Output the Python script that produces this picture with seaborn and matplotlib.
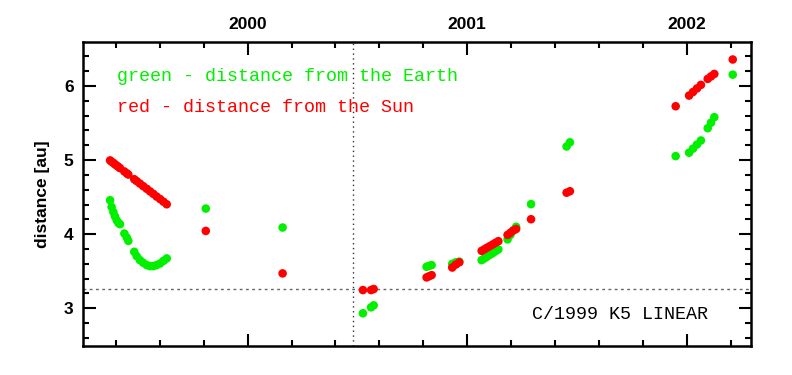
import seaborn as sns
import matplotlib
matplotlib.use('Agg')
import matplotlib.pyplot as plt
import pandas as pd
from matplotlib.ticker import MultipleLocator

# epochs (decimal year) and distances [au] of C/1999 K5 (LINEAR)
dates = [1999.373, 1999.380, 1999.388, 1999.395, 1999.403, 1999.411, 1999.418,
         1999.438, 1999.449, 1999.456, 1999.483, 1999.494, 1999.509, 1999.524,
         1999.540, 1999.555, 1999.570, 1999.585, 1999.601, 1999.616, 1999.631,
         1999.809, 2000.159,
         2000.525, 2000.562, 2000.574,
         2000.815, 2000.826, 2000.838,
         2000.932, 2000.948, 2000.964,
         2001.066, 2001.079, 2001.091, 2001.104, 2001.117, 2001.129, 2001.142,
         2001.184, 2001.197, 2001.210, 2001.223,
         2001.291,
         2001.453, 2001.468,
         2001.950,
         2002.011, 2002.029, 2002.047, 2002.065, 2002.096, 2002.111, 2002.126,
         2002.210]

delta = [4.458, 4.367, 4.300, 4.242, 4.188, 4.152, 4.135,
         4.009, 3.956, 3.910, 3.762, 3.704, 3.650, 3.614,
         3.583, 3.569, 3.569, 3.583, 3.605, 3.640, 3.673,
         4.346, 4.090,
         2.933, 3.013, 3.040,
         3.560, 3.572, 3.583,
         3.600, 3.620, 3.630,
         3.650, 3.674, 3.698, 3.722, 3.746, 3.770, 3.794,
         3.930, 3.990, 4.050, 4.100,
         4.406,
         5.184, 5.240,
         5.054,
         5.100, 5.155, 5.210, 5.265, 5.431, 5.505, 5.579,
         6.153]

r_sun = [4.996, 4.978, 4.962, 4.944, 4.926, 4.909, 4.892,
         4.847, 4.822, 4.805, 4.742, 4.717, 4.683, 4.648,
         4.613, 4.578, 4.544, 4.508, 4.474, 4.439, 4.404,
         4.044, 3.471,
         3.246, 3.246, 3.260,
         3.417, 3.432, 3.448,
         3.550, 3.590, 3.620,
         3.775, 3.797, 3.819, 3.840, 3.862, 3.884, 3.906,
         3.990, 4.020, 4.050, 4.070,
         4.202,
         4.560, 4.580,
         5.727,
         5.871, 5.919, 5.967, 6.015, 6.096, 6.130, 6.163,
         6.358]

perihelion_date = 2000.481
perihelion_q = 3.255
year_ticks = [2000, 2001, 2002]

df = pd.DataFrame({'date': dates, 'delta': delta, 'r': r_sun})

sns.set_style('ticks')
plt.rcParams['font.family'] = ['Liberation Sans', 'DejaVu Sans']

fig = plt.figure(figsize=(7.92, 3.75), dpi=100)
ax = fig.add_axes([0.1052, 0.0781, 0.8427, 0.8107])

ax.axvline(perihelion_date, color='0.2', lw=1.0, ls=(0, (1, 2.5)), zorder=1)
ax.axhline(perihelion_q, color='0.4', lw=1.0, ls=(0, (2, 2.5)), zorder=1)

sns.scatterplot(data=df, x='date', y='delta', color='#00f000', s=38,
                edgecolor='none', ax=ax, zorder=3)
sns.scatterplot(data=df, x='date', y='r', color='#ff0000', s=38,
                edgecolor='none', ax=ax, zorder=4)

ax.set_xlim(1999.251, 2002.292)
ax.set_ylim(2.495, 6.598)

ax.set_xticks(year_ticks)
ax.set_xticklabels([str(y) for y in year_ticks])
ax.xaxis.set_minor_locator(MultipleLocator(0.2))
ax.set_yticks([3, 4, 5, 6])
ax.yaxis.set_minor_locator(MultipleLocator(0.2))

ax.tick_params(which='both', direction='in', top=True, right=True, width=1.5,
               labelbottom=False, labeltop=True, color='black', labelcolor='black')
ax.tick_params(which='major', length=9, pad=7, labelsize=12.5)
ax.tick_params(which='minor', length=4.5)
for lab in ax.get_xticklabels() + ax.get_yticklabels():
    lab.set_fontweight('bold')

for s in ax.spines.values():
    s.set_linewidth(1.8)
    s.set_color('black')

ax.set_xlabel('')
ax.set_ylabel('distance [au]', fontsize=12.5, fontweight='bold', labelpad=10,
              color='black')

mono = ['Liberation Mono', 'DejaVu Sans Mono']
ax.text(0.0505, 0.884, 'green - distance from the Earth', transform=ax.transAxes,
        color='#00f000', fontsize=13.2, family=mono, va='center', ha='left')
ax.text(0.0505, 0.785, 'red - distance from the Sun', transform=ax.transAxes,
        color='#ff0000', fontsize=13.2, family=mono, va='center', ha='left')
ax.text(0.936, 0.104, 'C/1999 K5 LINEAR', transform=ax.transAxes,
        color='black', fontsize=13.2, family=mono, va='center', ha='right')

fig.savefig('out.png', dpi=100)
